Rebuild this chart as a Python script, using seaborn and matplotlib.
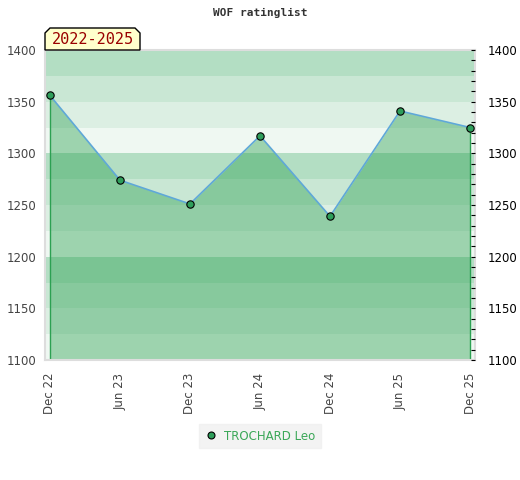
import numpy as np
import pandas as pd
import matplotlib
matplotlib.use("Agg")
import matplotlib.pyplot as plt
from matplotlib.patches import Polygon
from matplotlib.lines import Line2D
import seaborn as sns

# 数据
months = ["Dec 22", "Jun 23", "Dec 23", "Jun 24", "Dec 24", "Jun 25", "Dec 25"]
ratings = [1356, 1274, 1251, 1317, 1239, 1341, 1325]
player = "TROCHARD Leo"
period = "2022-2025"
y_ticks = [1100, 1150, 1200, 1250, 1300, 1350, 1400]

df = pd.DataFrame({"idx": np.arange(len(months)), "rating": ratings})

sns.set_style("white")
plt.rcParams['font.family'] = ['DejaVu Sans']

fig = plt.figure(figsize=(5.2, 4.8), dpi=100)
ax = fig.add_axes([45 / 520, 120 / 480, 430 / 520, 310 / 480])

ymin, ymax = 1100, 1400
# 背景条纹，每25一档，每100循环
band_colors = ["#eff8f2", "#dcefe3", "#c9e7d4", "#b3dec3"]
for k, lo in enumerate(range(ymin, ymax, 25)):
    ax.axhspan(lo, lo + 25, color=band_colors[k % 4], lw=0, zorder=0)

ax.fill_between(df["idx"], df["rating"], ymin, color="#2ca052", alpha=0.42, lw=0, zorder=1)
ax.vlines([df["idx"].iloc[0], df["idx"].iloc[-1]], ymin,
          [df["rating"].iloc[0], df["rating"].iloc[-1]], color="#2ca052", lw=1, zorder=2)
sns.lineplot(data=df, x="idx", y="rating", ax=ax, color="#5fa8d8", lw=1.2, zorder=3)
sns.scatterplot(data=df, x="idx", y="rating", ax=ax, color="#2e9e5b", edgecolor="black",
                linewidth=0.8, s=28, zorder=4)

ax.set_xlim(-0.071, len(months) - 1 + 0.071)
ax.set_ylim(ymin, ymax)
ax.set_xticks(df["idx"])
ax.set_xticklabels(months, rotation=90, fontsize=8.5, color="#444444")
ax.set_yticks(y_ticks)
ax.set_yticklabels([str(v) for v in y_ticks], fontsize=8.5, color="#444444")
ax.tick_params(axis="y", length=0, pad=6)
ax.tick_params(axis="x", length=0, pad=9)
ax.set_xlabel("")
ax.set_ylabel("")
for sp in ax.spines.values():
    sp.set_color("#dddddd")
    sp.set_linewidth(1.5)

# 右侧坐标轴
ax2 = ax.twinx()
ax2.set_ylim(ymin, ymax)
ax2.set_yticks(y_ticks)
ax2.set_yticklabels([str(v) for v in y_ticks], fontsize=8.5, color="black")
ax2.set_yticks(np.arange(ymin, ymax + 1, 10), minor=True)
ax2.tick_params(axis="y", which="both", direction="in", length=3, width=0.8, color="black", pad=9)
for sp in ax2.spines.values():
    sp.set_visible(False)

fig.text(0.5, 1 - 13 / 480, "WOF ratinglist", ha="center", va="center",
         family="DejaVu Sans Mono", fontweight="bold", fontsize=8, color="#333333")

# 标签框
x0, x1, y0, y1, c = 45 / 520, 140 / 520, 1 - 50 / 480, 1 - 28 / 480, 5
dx, dy = c / 520, c / 480
box = Polygon([(x0, y0), (x0, y1 - dy), (x0 + dx, y1), (x1 - dx, y1), (x1, y1 - dy), (x1, y0)],
              closed=True, transform=fig.transFigure, facecolor="#ffffcc", edgecolor="black",
              lw=1, zorder=5)
fig.patches.append(box)
fig.text((x0 + x1) / 2, (y0 + y1) / 2 - 0.002, period, ha="center", va="center",
         family="DejaVu Sans Mono", fontsize=11, color="#990000", zorder=6)

handle = Line2D([], [], ls="", marker="o", markersize=5, markerfacecolor="#2e9e5b",
                markeredgecolor="black", markeredgewidth=0.8)
leg = fig.legend([handle], [player], loc="center", bbox_to_anchor=(0.5, 1 - 436 / 480),
                 frameon=True, fancybox=False, fontsize=8.5, handletextpad=0.6,
                 borderpad=0.5, handlelength=1)
leg.get_frame().set_facecolor("#f0f0f0")
leg.get_frame().set_edgecolor("#f0f0f0")
for t in leg.get_texts():
    t.set_color("#3aa757")

fig.savefig("out.png", dpi=100)
